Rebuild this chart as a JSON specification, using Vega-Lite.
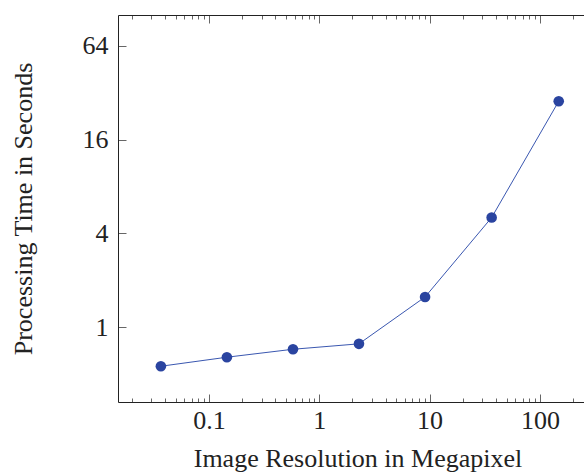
{
  "$schema": "https://vega.github.io/schema/vega-lite/v6.json",
  "autosize": "none",
  "padding": {"left": 118, "top": 15, "right": 0, "bottom": 71},
  "width": 479,
  "height": 387,
  "background": "white",
  "data": {"values": [
    {"mp": 0.0367, "t": 0.56},
    {"mp": 0.1455, "t": 0.64},
    {"mp": 0.578, "t": 0.72},
    {"mp": 2.29, "t": 0.78},
    {"mp": 9.1, "t": 1.56},
    {"mp": 36.5, "t": 5.05},
    {"mp": 148, "t": 28.2}
  ]},
  "config": {
    "font": "Liberation Serif",
    "view": {"stroke": null},
    "axis": {
      "grid": false,
      "domainColor": "#222",
      "domainWidth": 1,
      "tickColor": "#666",
      "tickWidth": 1,
      "labelFont": "Liberation Serif",
      "titleFont": "Liberation Serif",
      "labelFontSize": 26,
      "titleFontSize": 26,
      "labelColor": "#222",
      "titleColor": "#222",
      "titleFontWeight": "normal"
    }
  },
  "layer": [
    {
      "mark": {"type": "line", "color": "#3a57b0", "strokeWidth": 1},
      "encoding": {
        "x": {"field": "mp", "type": "quantitative",
          "scale": {"type": "log", "domain": [0.015, 329], "nice": false},
          "axis": {"orient": "bottom", "title": "Image Resolution in Megapixel",
            "values": [0.02,0.03,0.04,0.05,0.06,0.07,0.08,0.09,0.1,0.2,0.3,0.4,0.5,0.6,0.7,0.8,0.9,1,2,3,4,5,6,7,8,9,10,20,30,40,50,60,70,80,90,100,200,300],
            "labelExpr": "indexof([0.1,1,10,100], datum.value) >= 0 ? datum.label : ''",
            "tickSize": {"condition": {"test": "indexof([0.1,1,10,100], datum.value) >= 0", "value": -8}, "value": -4},
            "labelPadding": 13,
            "titlePadding": 12}
        },
        "y": {"field": "t", "type": "quantitative",
          "scale": {"type": "log", "base": 2, "domain": [0.33, 101], "nice": false},
          "axis": {"orient": "left", "title": "Processing Time in Seconds",
            "values": [1, 4, 16, 64],
            "tickSize": -8,
            "labelPadding": 18,
            "titlePadding": 46}
        }
      }
    },
    {
      "mark": {"type": "point", "filled": true, "color": "#2a44a0", "opacity": 1, "size": 113},
      "encoding": {
        "x": {"field": "mp", "type": "quantitative",
          "scale": {"type": "log", "domain": [0.015, 329], "nice": false},
          "axis": {"orient": "top", "title": null, "labels": false,
            "values": [0.02,0.03,0.04,0.05,0.06,0.07,0.08,0.09,0.1,0.2,0.3,0.4,0.5,0.6,0.7,0.8,0.9,1,2,3,4,5,6,7,8,9,10,20,30,40,50,60,70,80,90,100,200,300],
            "tickSize": {"condition": {"test": "indexof([0.1,1,10,100], datum.value) >= 0", "value": -8}, "value": -4}}
        },
        "y": {"field": "t", "type": "quantitative",
          "scale": {"type": "log", "base": 2, "domain": [0.33, 101], "nice": false},
          "axis": {"orient": "right", "title": null, "labels": false,
            "values": [1, 4, 16, 64], "tickSize": -8}
        }
      }
    }
  ],
  "resolve": {"axis": {"x": "independent", "y": "independent"}}
}
